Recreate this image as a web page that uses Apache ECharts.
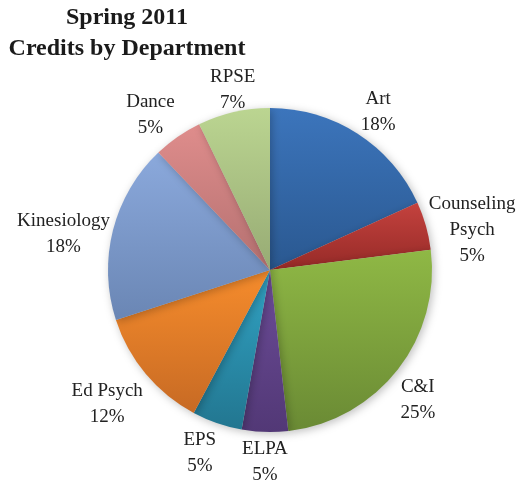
<!DOCTYPE html>
<html>
<head>
<meta charset="utf-8">
<script src="https://cdn.jsdelivr.net/npm/echarts@6/dist/echarts.min.js"></script>
<style>
html,body{margin:0;padding:0;background:#fff;}
#chart{width:518px;height:480px;}
</style>
</head>
<body>
<div id="chart"></div>
<script>
var titleLines = ['Spring 2011', 'Credits by Department'];
var departments = ['Art', 'Counseling\nPsych', 'C&I', 'ELPA', 'EPS', 'Ed Psych', 'Kinesiology', 'Dance', 'RPSE'];
var credits = [18.2, 4.8, 25.2, 4.6, 5.0, 12.2, 17.9, 4.9, 7.2];
var topColors = ['#3c75bc', '#c4423e', '#8fb845', '#6c4c98', '#31a3c4', '#f68c2c', '#8ba9dc', '#df8d8c', '#bbd591'];
var bottomColors = ['#2a5890', '#962a27', '#6a8a34', '#523876', '#227690', '#c76a24', '#6a86b4', '#b47070', '#97ab74'];

var W = 518, H = 480;
var CX = 270, CY = 270, R = 162;

var total = credits.reduce(function (a, b) { return a + b; }, 0);
var midAngles = [];
var acc = 0;
credits.forEach(function (v) {
  midAngles.push((acc + v / 2) / total * 2 * Math.PI);
  acc += v;
});

function ramp(s, lo) {
  var t = (Math.abs(s) - lo) / 0.12;
  t = Math.max(0, Math.min(1, t));
  return (s < 0 ? -1 : 1) * t;
}

var data = departments.map(function (name, i) {
  return {
    name: name,
    value: credits[i],
    itemStyle: {
      color: {
        type: 'linear', x: 0, y: 0, x2: 0, y2: 1,
        colorStops: [{ offset: 0, color: topColors[i] }, { offset: 1, color: bottomColors[i] }]
      }
    }
  };
});

var chart = echarts.init(document.getElementById('chart'), null, { renderer: 'canvas' });
chart.setOption({
  backgroundColor: '#ffffff',
  animation: false,
  graphic: [{
    type: 'text',
    x: 127,
    y: 2,
    style: {
      text: titleLines.join('\n'),
      align: 'center',
      verticalAlign: 'top',
      fontFamily: 'Liberation Serif',
      fontWeight: 'bold',
      fontSize: 24,
      lineHeight: 31,
      fill: '#1a1a1a'
    }
  }],
  series: [{
    type: 'pie',
    center: [CX, CY],
    radius: [0, R],
    startAngle: 90,
    clockwise: true,
    data: data,
    itemStyle: {
      borderWidth: 0,
      shadowBlur: 8,
      shadowColor: 'rgba(0,0,0,0.25)',
      shadowOffsetX: 2,
      shadowOffsetY: 2
    },
    emphasis: { disabled: true },
    labelLine: { show: false, length: 0, length2: 0 },
    label: {
      show: true,
      position: 'outside',
      formatter: '{b}\n{d}%',
      fontFamily: 'Liberation Serif',
      fontSize: 19,
      lineHeight: 26,
      color: '#222222',
      align: 'center',
      overflow: 'none',
      edgeDistance: 0,
      bleedMargin: 0
    },
    percentPrecision: 0,
    labelLayout: function (p) {
      var a = midAngles[p.dataIndex];
      var sx = Math.sin(a), sy = -Math.cos(a);
      var w = p.labelRect.width, h = p.labelRect.height;
      var ax = CX + sx * R, ay = CY + sy * R;
      return {
        x: ax + ramp(sx, 0.22) * (w / 2 + 3),
        y: ay + ramp(sy, 0.30) * (h / 2) + 4,
        align: 'center',
        verticalAlign: 'middle'
      };
    }
  }]
});
</script>
</body>
</html>
